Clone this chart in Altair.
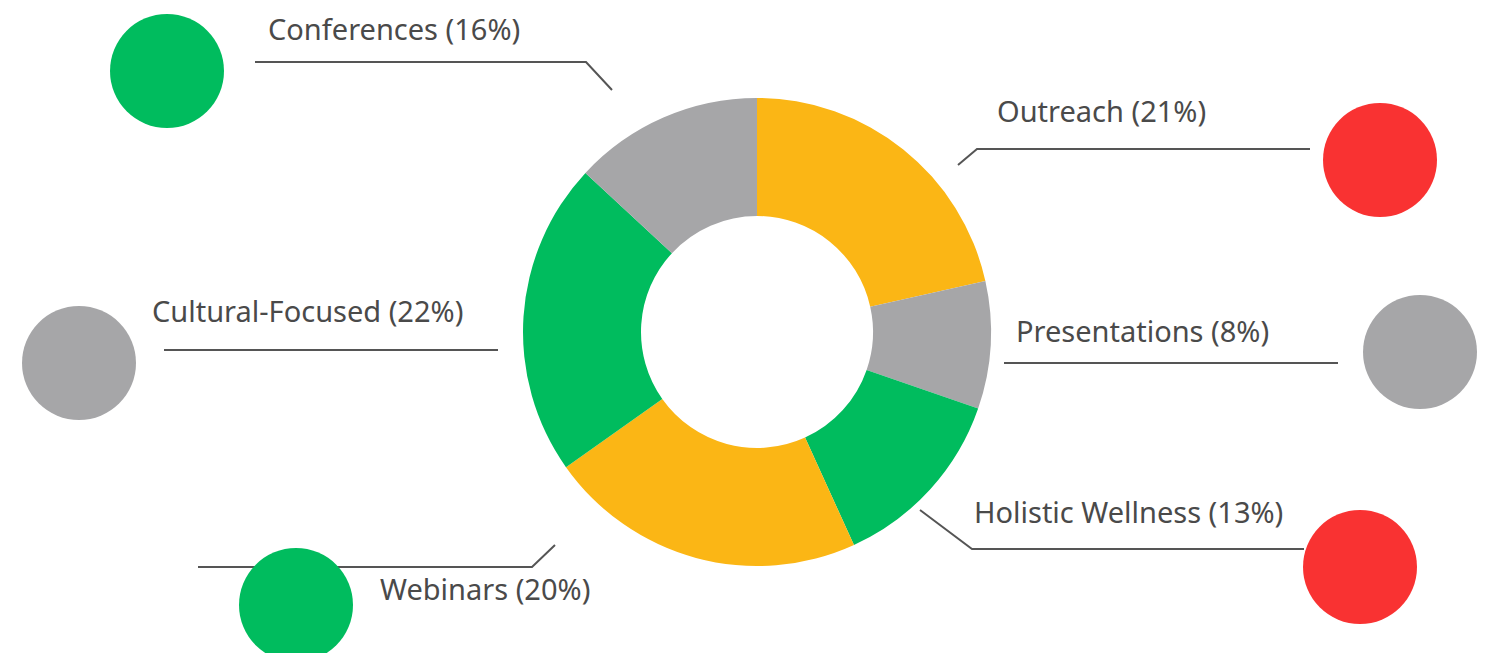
import altair as alt
import pandas as pd

# ---- data ----
categories = ["Outreach", "Presentations", "Holistic Wellness", "Webinars", "Cultural-Focused", "Conferences"]
slice_values = [21.5, 8.8, 12.9, 22.0, 21.7, 13.1]   # arc sizes as drawn
label_pcts = [21, 8, 13, 20, 22, 16]                 # percentages printed in labels
slice_colors = ["#FBB615", "#A6A6A8", "#00BC5E", "#FBB615", "#00BC5E", "#A6A6A8"]

# ---- layout (page pixel coordinates) ----
W, H = 1488, 645
CX, CY = 757, 332
R_OUT, R_IN = 234, 116

label_x = [997, 1016, 974, 380, 152, 268]
label_y = [122, 342, 523, 600, 322, 40]

circle_x = [167, 1380, 79, 1420, 296, 1360]
circle_y = [71, 160, 363, 352, 605, 567]
circle_c = ["#00BC5E", "#F93232", "#A6A6A8", "#A6A6A8", "#00BC5E", "#F93232"]
CIRCLE_D = 114

leader_lines = {
    "Conferences": [(255, 62), (586, 62), (612, 90)],
    "Outreach": [(958, 165), (977, 149), (1310, 149)],
    "Cultural-Focused": [(164, 350), (498, 350)],
    "Presentations": [(1004, 363), (1338, 363)],
    "Webinars": [(198, 567), (532, 567), (555, 545)],
    "Holistic Wellness": [(920, 510), (972, 549), (1304, 549)],
}

slices = pd.DataFrame({
    "category": categories,
    "value": slice_values,
    "idx": list(range(len(categories))),
})
labels = pd.DataFrame({
    "text": [f"{c} ({p}%)" for c, p in zip(categories, label_pcts)],
    "x": label_x,
    "y": label_y,
})
circles = pd.DataFrame({"x": circle_x, "y": circle_y, "col": circle_c})
rows = []
for name, pts in leader_lines.items():
    for i, (px, py) in enumerate(pts):
        rows.append({"name": name, "i": i, "x": px, "y": py})
lines = pd.DataFrame(rows)

xs = alt.Scale(domain=[8, 8 + W], range=[0, W])
ys = alt.Scale(domain=[8, 8 + H], range=[0, H])

donut = alt.Chart(slices).mark_arc(outerRadius=R_OUT, innerRadius=R_IN, stroke=None).encode(
    theta=alt.Theta("value:Q", stack=True),
    order=alt.Order("idx:Q"),
    color=alt.Color("category:N", scale=alt.Scale(domain=categories, range=slice_colors), legend=None),
    x=alt.value(CX - 8),
    y=alt.value(CY - 8),
)

dots = alt.Chart(circles).mark_circle(opacity=1, size=CIRCLE_D ** 2).encode(
    x=alt.X("x:Q", scale=xs, axis=None),
    y=alt.Y("y:Q", scale=ys, axis=None),
    color=alt.Color("col:N", scale=None),
)

leaders = alt.Chart(lines).mark_line(color="#555555", strokeWidth=2).encode(
    x=alt.X("x:Q", scale=xs, axis=None),
    y=alt.Y("y:Q", scale=ys, axis=None),
    detail="name:N",
    order="i:Q",
)

texts = alt.Chart(labels).mark_text(
    align="left", baseline="alphabetic", font="Noto Sans", fontSize=29, color="#4A4A4A"
).encode(
    x=alt.X("x:Q", scale=xs, axis=None),
    y=alt.Y("y:Q", scale=ys, axis=None),
    text="text:N",
)

chart = alt.layer(leaders, dots, donut, texts).properties(
    width=W, height=H, padding=0, autosize=alt.AutoSizeParams(type="none")
).configure_view(stroke=None)

chart.save("out.html", embed_options={"renderer": "svg", "actions": False})
